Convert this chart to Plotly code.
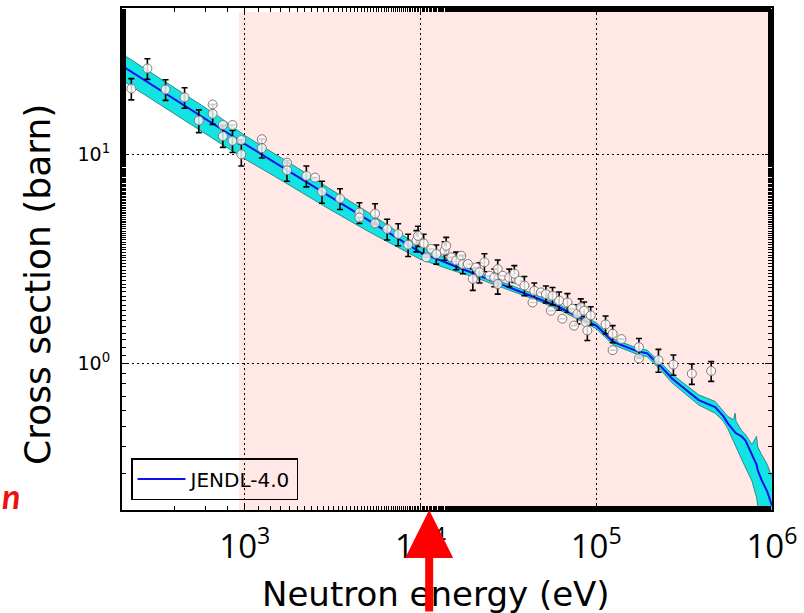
import plotly.graph_objects as go
import numpy as np

# ---- Evaluated cross section (JENDL-4.0) and its uncertainty band ----
E_eval = [200, 300, 500, 700, 1000, 1500, 2000, 3000, 5000, 7000, 10000, 15000, 20000,
          30000, 45000, 60000, 85000, 100000, 125000, 170000, 195000, 236000, 270000,
          383000, 475000, 530000, 560000, 605000, 617000, 625000, 671000, 706000,
          770000, 817000, 830000, 870000, 940000, 980000, 1000000]
sig_eval = [26.5, 21.3, 16.2, 13.6, 11.2, 9.08, 7.82, 6.34, 4.87, 4.09, 3.40, 2.97, 2.70,
            2.36, 2.08, 1.88, 1.62, 1.52, 1.27, 1.15, 1.12, 0.96, 0.85,
            0.67, 0.62, 0.56, 0.52, 0.475, 0.47, 0.465, 0.45, 0.43,
            0.37, 0.33, 0.31, 0.28, 0.245, 0.223, 0.21]
sig_hi = [30.2, 24.2, 18.3, 15.3, 12.3, 10.0, 8.6, 6.9, 5.3, 4.4, 3.62, 3.12, 2.80,
          2.43, 2.14, 1.93, 1.67, 1.57, 1.31, 1.19, 1.16, 1.00, 0.89,
          0.71, 0.66, 0.59, 0.56, 0.54, 0.58, 0.53, 0.48, 0.46,
          0.41, 0.45, 0.40, 0.37, 0.33, 0.30, 0.29]
sig_lo = [22.6, 18.2, 13.8, 11.5, 9.5, 7.8, 6.75, 5.5, 4.3, 3.7, 3.15, 2.80, 2.60,
          2.29, 2.02, 1.83, 1.57, 1.47, 1.23, 1.11, 1.08, 0.92, 0.81,
          0.635, 0.58, 0.53, 0.49, 0.43, 0.41, 0.40, 0.35, 0.32,
          0.275, 0.23, 0.21, 0.18, 0.15, 0.14, 0.13]

# ---- Experimental data ----
E_exp = [226, 279, 354, 454, 547, 656, 656, 750, 750, 851, 851, 955, 955, 1250, 1250,
         1738, 1738, 2240, 2510, 2750, 3480, 4490, 4490, 5510, 5510, 6460, 7460, 8500,
         9480, 10420, 10790, 9680, 11530, 12300, 13700, 14000, 14970, 15960, 17050,
         17400, 18600, 19840, 20700, 21650, 23100, 24700, 26300, 27500, 27500, 29300,
         32000, 34900, 34200, 36500, 39000, 43400, 44400, 48400, 51700, 55200, 56400,
         61500, 64200, 68600, 73200, 74800, 78100, 81600, 85300, 87200, 89000, 93000,
         113000, 124000, 124000, 139000, 175000, 175000, 226000, 275000, 350000, 451000]
sig_exp = [20.6, 25.7, 20.4, 18.7, 14.5, 17.3, 15.6, 13.8, 12.2, 13.8, 11.6, 11.7, 10.0, 11.8, 10.7,
           9.12, 8.39, 7.89, 7.74, 6.64, 6.15, 5.27, 4.99, 5.21, 4.68, 4.40, 4.16, 3.70,
           3.87, 3.75, 3.22, 4.08, 3.53, 3.34, 3.47, 3.66, 3.22, 3.11, 3.28,
           2.99, 2.99, 2.54, 2.88, 2.73, 3.05, 2.63, 2.58, 2.83, 2.40, 2.63,
           2.58, 2.54, 2.69, 2.49, 2.36, 1.96, 2.23, 2.19, 2.15, 1.79, 2.11,
           2.00, 1.64, 1.96, 1.83, 1.52, 1.73, 1.86, 1.79, 1.58, 1.44, 1.70,
           1.54, 1.39, 1.16, 1.31, 1.20, 1.06, 1.04, 0.99, 0.896, 0.923]
err_exp = [2.4, 2.9, 2.3, 2.1, 1.8, 0, 1.7, 0, 1.4, 0, 1.4, 0, 1.2, 0, 1.1,
           0, 0.95, 0.9, 0, 0.8, 0.7, 0.6, 0, 0.6, 0, 0.5, 0.5, 0.45,
           0.45, 0.4, 0, 0.45, 0, 0.35, 0.35, 0.35, 0, 0.3, 0,
           0.3, 0, 0.3, 0, 0.3, 0.3, 0, 0.25, 0.3, 0.25, 0,
           0.25, 0, 0.25, 0, 0.25, 0, 0.2, 0, 0.2, 0, 0.2,
           0.2, 0, 0.2, 0, 0, 0.18, 0.18, 0.18, 0, 0.15, 0.17,
           0.15, 0.13, 0, 0, 0.12, 0, 0.13, 0.11, 0.1, 0.1]

x_tickvals = [1e3, 1e4, 1e5, 1e6]
x_ticktext = ["10<sup>3</sup>", "10<sup>4</sup>", "10<sup>5</sup>", "10<sup>6</sup>"]
y_tickvals = [1, 10]
y_ticktext = ["10<sup>0</sup>", "10<sup>1</sup>"]
highlight_range = [925, 1e6]
arrow_energy = 1.12e4

# plot-area geometry (pixels) used for placing the overlay texts
L, R, T, B, W, H = 122, 32, 6, 103, 804, 613
PW, PH = W - L - R, H - T - B


def px(x):
    return (x - L) / PW


def py(y):
    return (H - B - y) / PH


fig = go.Figure()

# uncertainty band
fig.add_trace(go.Scatter(x=E_eval, y=sig_lo, mode="lines",
                         line=dict(color="#2e8b8b", width=1), showlegend=False,
                         hoverinfo="skip"))
fig.add_trace(go.Scatter(x=E_eval, y=sig_hi, mode="lines", fill="tonexty",
                         fillcolor="#14e3e3", line=dict(color="#2e8b8b", width=1),
                         showlegend=False, hoverinfo="skip"))
# evaluated line
fig.add_trace(go.Scatter(x=E_eval, y=sig_eval, mode="lines", name="JENDL-4.0",
                         line=dict(color="#1010f0", width=2)))
# experimental points
fig.add_trace(go.Scatter(x=E_exp, y=sig_exp, mode="markers", showlegend=False,
                         marker=dict(symbol="circle", size=9,
                                     color="rgba(255,255,255,0.8)",
                                     line=dict(color="#857575", width=1)),
                         error_y=dict(type="data", array=err_exp, visible=True,
                                      color="black", thickness=1.6, width=3)))

# highlighted region
fig.add_shape(type="rect", xref="x", yref="paper",
              x0=highlight_range[0], x1=highlight_range[1], y0=0, y1=0.992,
              fillcolor="rgb(255,232,230)", line=dict(width=0), layer="below")

axis_common = dict(type="log", showline=True, linecolor="black", linewidth=2,
                   mirror="allticks", ticks="inside", ticklen=7, tickwidth=1,
                   tickcolor="black", showgrid=True, gridcolor="black",
                   griddash="2px,3px", gridwidth=1, zeroline=False,
                   minor=dict(ticks="inside", ticklen=4, tickcolor="black",
                              tickwidth=1, showgrid=False))

fig.update_xaxes(**axis_common, range=[np.log10(200), 6.0003],
                 tickmode="array", tickvals=x_tickvals, ticktext=x_ticktext,
                 tickfont=dict(family="Open Sans", size=33, color="black"),
                 ticklabelstandoff=6)
fig.update_yaxes(**axis_common, range=[np.log10(0.2), np.log10(50)],
                 tickmode="array", tickvals=y_tickvals, ticktext=y_ticktext,
                 tickfont=dict(family="DejaVu Sans", size=19, color="black"),
                 ticklabelstandoff=6)

fig.add_annotation(text="Neutron energy (eV)", xref="paper", yref="paper",
                   x=px(436), y=py(594), showarrow=False,
                   xanchor="center", yanchor="middle",
                   font=dict(family="DejaVu Sans", size=34, color="black"))
fig.add_annotation(text="Cross section (barn)", xref="paper", yref="paper",
                   x=px(38), y=py(284), showarrow=False,
                   textangle=-90, xanchor="center", yanchor="middle",
                   font=dict(family="DejaVu Sans", size=36, color="black"))
fig.add_annotation(text="<b><i>n</i></b>", xref="paper", yref="paper",
                   x=px(11), y=py(495), showarrow=False,
                   xanchor="center", yanchor="middle",
                   font=dict(family="Lato", size=34, color="#ee1111"))
# red arrow
fig.add_annotation(x=np.log10(arrow_energy), y=0, xref="x", yref="paper",
                   text="", showarrow=True, arrowhead=2, arrowsize=1.2,
                   arrowwidth=8, arrowcolor="#ff0000", ax=0, ay=120,
                   standoff=0)

fig.update_layout(
    width=W, height=H,
    margin=dict(l=L, r=R, t=T, b=B),
    paper_bgcolor="white", plot_bgcolor="white",
    showlegend=True,
    legend=dict(x=px(131), y=py(500), xanchor="left", yanchor="bottom",
                bgcolor="rgba(0,0,0,0)", bordercolor="black", borderwidth=1.5,
                itemwidth=48,
                font=dict(family="DejaVu Sans", size=20, color="black")),
)

fig.write_html("out.html", config={"displayModeBar": False},
               post_script="document.body.style.margin='0px';")
